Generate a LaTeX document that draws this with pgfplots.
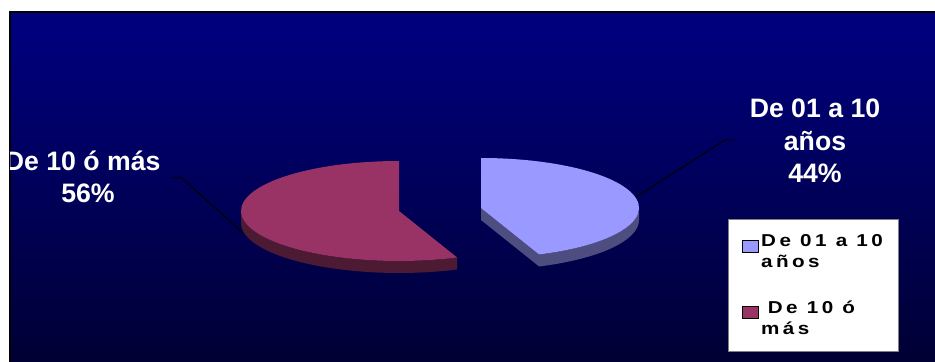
\documentclass[border=0pt]{standalone}
\usepackage{fontspec}
\setmainfont{Liberation Sans}
\newfontfamily\spacedfamily[FakeStretch=1.2, LetterSpace=20]{Liberation Sans}
\usepackage{pgfplots}
\usepackage{pgfplotstable}
\pgfplotsset{compat=1.18}

\definecolor{pieBlue}{RGB}{153,153,255}
\definecolor{pieBlueSide}{RGB}{77,77,128}
\definecolor{piePurple}{RGB}{153,51,102}
\definecolor{piePurpleSide}{RGB}{77,26,51}
\definecolor{bgTop}{RGB}{0,0,128}
\definecolor{bgBottom}{RGB}{0,0,50}

% shares in per cent
\pgfplotstableread{
share
44
56
}\sharetable

\begin{document}
\begin{tikzpicture}
\pgfplotstablegetelem{0}{share}\of\sharetable \let\shareA\pgfplotsretval
\pgfplotstablegetelem{1}{share}\of\sharetable \let\shareB\pgfplotsretval
% first slice runs clockwise from 12 o'clock
\pgfmathsetmacro\aEnd{90-3.6*\shareA}   % end of slice A (start of slice B)
\pgfmathsetmacro\aEndB{\aEnd+360}
% ellipse of the tilted pie (axis units = 0.75pt)
\def\rx{158}\def\ry{50}
\def\RX{118.5pt}\def\RY{37.5pt}\def\DEP{9pt}
% exploded slice centres
\def\bX{481}\def\bY{153}
\def\pX{399}\def\pY{150}
\pgfmathsetmacro\bEx{\bX+\rx*cos(\aEnd)}
\pgfmathsetmacro\bEy{\bY+\ry*sin(\aEnd)}

\useasboundingbox (0,0) rectangle (701.25pt,270.75pt);
\clip (0,0) rectangle (701.25pt,270.75pt);
\fill[white] (0,0) rectangle (701.25pt,270.75pt);

\begin{axis}[
  at={(0,0)}, anchor=south west,
  scale only axis, width=701.25pt, height=270.75pt,
  xmin=0, xmax=935, ymin=0, ymax=361,
  hide axis, clip=false,
  legend image code/.code={\fill[#1] (0pt,0pt) rectangle (12pt,9pt);},
  legend style={
    at={(axis cs:728,142)}, anchor=north west,
    draw=gray, fill=white, line width=0.6pt,
    inner xsep=10pt, inner ysep=9.5pt,
    row sep=19pt,
    font=\spacedfamily\bfseries\fontsize{12.9pt}{15.75pt}\selectfont,
    align=left,
  },
  legend cell align=left,
]
% plot area background
\shade[top color=bgTop, bottom color=bgBottom, draw=black, line width=1.5pt]
  (axis cs:9.5,348.5) rectangle (axis cs:960,-10);

% slice B: visible rim
\fill[piePurpleSide] (axis cs:\pX-\rx,\pY)
  arc[start angle=180, end angle=\aEndB, x radius=\RX, y radius=\RY]
  -- ++(0pt,-\DEP)
  arc[start angle=\aEndB, end angle=180, x radius=\RX, y radius=\RY] -- cycle;
% slice B: top
\fill[piePurple] (axis cs:\pX,\pY) -- (axis cs:\pX,\pY+\ry)
  arc[start angle=90, end angle=\aEndB, x radius=\RX, y radius=\RY] -- cycle;

% slice A: rim and cut face
\fill[pieBlueSide] (axis cs:\bEx,\bEy)
  arc[start angle=\aEnd, end angle=0, x radius=\RX, y radius=\RY]
  -- ++(0pt,-\DEP)
  arc[start angle=0, end angle=\aEnd, x radius=\RX, y radius=\RY] -- cycle;
\fill[pieBlueSide] (axis cs:\bX,\bY) -- (axis cs:\bEx,\bEy) -- ++(0pt,-\DEP)
  -- ([yshift=-\DEP]axis cs:\bX,\bY) -- cycle;
% slice A: top
\fill[pieBlue] (axis cs:\bX,\bY) -- (axis cs:\bEx,\bEy)
  arc[start angle=\aEnd, end angle=90, x radius=\RX, y radius=\RY] -- cycle;

% leader lines
\draw[black, line width=0.75pt] (axis cs:735,221) -- (axis cs:725,221) -- (axis cs:636,164);
\draw[black, line width=0.75pt] (axis cs:172,183) -- (axis cs:182,183) -- (axis cs:243,128);

% data labels
\begin{scope}
\clip (axis cs:10.5,347.5) rectangle (axis cs:935,0);
\node[white, font=\bfseries\fontsize{20pt}{24.4pt}\selectfont, align=center]
  at (axis cs:815,220) {De 01 a 10\\años\\\shareA\%};
\node[white, font=\bfseries\fontsize{20pt}{24.4pt}\selectfont, align=center]
  at (axis cs:88,184) {De 10 ó más\hspace*{8pt}\\\shareB\%};
\end{scope}

\addlegendimage{fill=pieBlue}
\addlegendentry{De 01 a 10\\años}
\addlegendimage{fill=piePurple}
\addlegendentry{\hspace*{5pt}De 10 ó\\más}
\end{axis}
\end{tikzpicture}
\end{document}
